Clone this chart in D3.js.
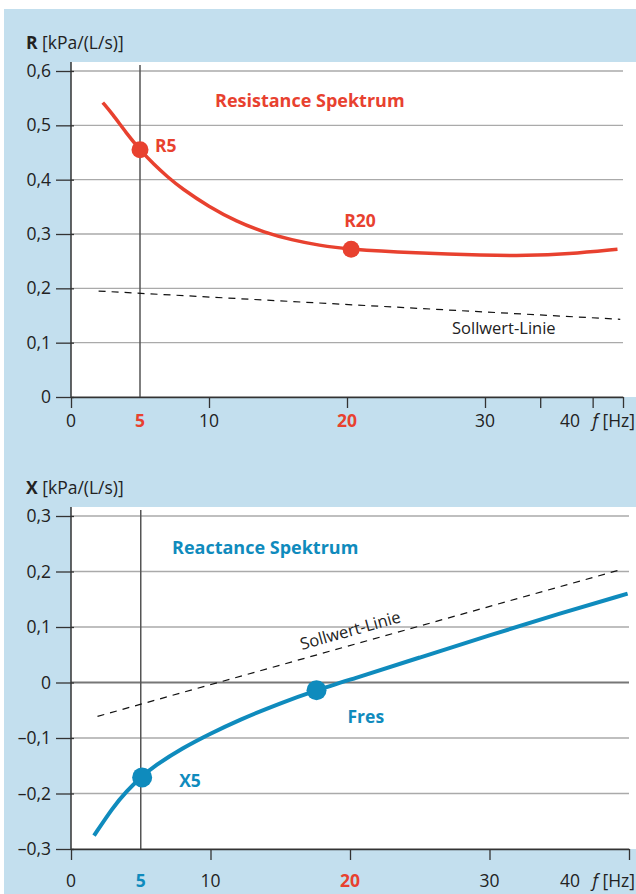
<!DOCTYPE html>
<html>
<head>
<meta charset="utf-8">
<script src="https://cdn.jsdelivr.net/npm/d3@7"></script>
<style>
  body { margin: 0; background: #fff; }
  text { font-family: "Open Sans", "Noto Sans", sans-serif; }
</style>
</head>
<body>
<div id="chart"></div>
<script>
// resistance spectrum (top)
var freqR = [2.3, 3, 4, 5, 6, 7, 8, 10, 12, 14, 16, 18, 20, 25, 30, 33, 36, 39.6];
var resistance = [0.542, 0.521, 0.486, 0.455, 0.428, 0.405, 0.384, 0.350, 0.323, 0.303, 0.289, 0.279, 0.272, 0.265, 0.261, 0.260, 0.263, 0.272];
var sollFreqR = [2.0, 39.8];
var sollR = [0.195, 0.143];
var markersR = [{ f: 5, v: 0.455, name: "R5" }, { f: 20.3, v: 0.272, name: "R20" }];

// reactance spectrum (bottom)
var freqX = [1.65, 3, 4, 5, 6, 8, 10, 12, 15, 17.6, 20, 25, 30, 35, 39.9];
var reactance = [-0.276, -0.225, -0.195, -0.171, -0.150, -0.118, -0.092, -0.068, -0.037, -0.014, 0.005, 0.045, 0.085, 0.124, 0.160];
var sollFreqX = [1.9, 39.5];
var sollX = [-0.061, 0.204];
var markersX = [{ f: 5.1, v: -0.171, name: "X5" }, { f: 17.6, v: -0.014, name: "Fres" }];

var yTicksR = [0, 0.1, 0.2, 0.3, 0.4, 0.5, 0.6];
var yTicksX = [-0.3, -0.2, -0.1, 0, 0.1, 0.2, 0.3];
var xTicksR = [0, 10, 20, 30, 34, 37.8, 40];
var xTicksX = [0, 10, 20, 30, 40];
var xLabels = [0, 5, 10, 20, 30];

var RED = "#e8412f", BLUE = "#0f8bbd", BG = "#c3dfee";
var FS = 17.5;

var width = 636, height = 894;
var svg = d3.select("#chart").append("svg")
  .attr("width", width)
  .attr("height", height);

svg.append("rect")
  .attr("x", 4).attr("y", 9)
  .attr("width", width - 4).attr("height", height - 9)
  .attr("fill", BG);

var fmt = v => v === 0 ? "0" : (v < 0 ? "\u2013" : "") + Math.abs(v).toFixed(1).replace(".", ",");

function panel(o) {
  var x = d3.scaleLinear().domain([0, 40]).range([71, o.xEnd]);
  var y = d3.scaleLinear().domain(o.yDomain).range(o.yRange);
  var g = svg.append("g");

  g.append("rect")
    .attr("x", 71).attr("y", o.top)
    .attr("width", width - 71).attr("height", o.yRange[0] - o.top)
    .attr("fill", "#fff");

  // grid
  g.selectAll(".grid").data(o.yTicks).join("line")
    .attr("x1", 71).attr("x2", o.xEnd)
    .attr("y1", d => y(d)).attr("y2", d => y(d))
    .attr("stroke", d => d === 0 && o.yDomain[0] < 0 ? "#777" : "#aaa")
    .attr("stroke-width", d => d === 0 && o.yDomain[0] < 0 ? 2 : 1.3);

  // vertical line at 5 Hz
  g.append("line")
    .attr("x1", x(5)).attr("x2", x(5))
    .attr("y1", o.top + 3).attr("y2", o.yRange[0])
    .attr("stroke", "#555").attr("stroke-width", 1.5);

  var yAxis = g.append("g")
    .attr("transform", "translate(71,0)")
    .call(d3.axisLeft(y).tickValues(o.yTicks).tickFormat(fmt).tickSizeInner(15).tickSizeOuter(0).tickPadding(5));
  yAxis.select(".domain").attr("d", "M0," + o.top + "V" + o.yRange[0]).attr("stroke", "#333").attr("stroke-width", 1.5);
  yAxis.selectAll(".tick line").attr("x2", -15).attr("x1", 3).attr("stroke", "#333").attr("stroke-width", 1.3);
  yAxis.selectAll("text").attr("font-size", FS).attr("fill", "#222");

  var xAxis = g.append("g")
    .attr("transform", "translate(0," + o.yRange[0] + ")")
    .call(d3.axisBottom(x).tickValues(o.xTicks).tickFormat(() => "").tickSizeInner(11).tickSizeOuter(0));
  xAxis.select(".domain").attr("stroke", "#333").attr("stroke-width", 1.5);
  xAxis.selectAll(".tick line").attr("stroke", "#333").attr("stroke-width", 1.3);

  g.selectAll(".xl").data(xLabels).join("text")
    .attr("x", d => x(d))
    .attr("y", o.yRange[0] + o.labelDy)
    .attr("text-anchor", "middle")
    .attr("font-size", FS)
    .attr("font-weight", d => d === 5 || d === 20 ? "bold" : "normal")
    .attr("fill", d => d === 5 ? o.color5 : d === 20 ? RED : "#222")
    .text(d => d);

  g.append("text")
    .attr("x", 570).attr("y", o.yRange[0] + o.labelDy)
    .attr("text-anchor", "middle")
    .attr("font-size", FS).attr("fill", "#222")
    .text("40");
  var hz = g.append("text")
    .attr("x", 635).attr("y", o.yRange[0] + o.labelDy)
    .attr("text-anchor", "end")
    .attr("font-size", FS).attr("fill", "#222");
  hz.append("tspan").attr("font-style", "italic").text("f");
  hz.append("tspan").text(" [Hz]");

  var title = g.append("text")
    .attr("x", 26).attr("y", o.titleY)
    .attr("font-size", FS).attr("fill", "#222");
  title.append("tspan").attr("font-weight", "bold").text(o.letter);
  title.append("tspan").text(" [kPa/(L/s)]");

  // Sollwert line
  var soll = d3.line().x(d => x(d[0])).y(d => y(d[1]));
  g.append("path")
    .attr("d", soll(d3.zip(o.sollF, o.sollV)))
    .attr("fill", "none").attr("stroke", "#111")
    .attr("stroke-width", 1.2).attr("stroke-dasharray", "7,6");

  var line = d3.line().x(d => x(d[0])).y(d => y(d[1])).curve(d3.curveBasis);
  g.append("path")
    .attr("d", line(d3.zip(o.freq, o.vals)))
    .attr("fill", "none").attr("stroke", o.color).attr("stroke-width", o.lw);

  g.selectAll(".dot").data(o.markers).join("circle")
    .attr("cx", d => x(d.f)).attr("cy", d => y(d.v))
    .attr("r", o.r).attr("fill", o.color);

  g.selectAll(".mk").data(o.markers).join("text")
    .attr("x", (d, i) => x(d.f) + o.mdx[i])
    .attr("y", (d, i) => y(d.v) + o.mdy[i])
    .attr("font-size", FS).attr("font-weight", "bold").attr("fill", o.color)
    .text(d => d.name);

  g.append("text")
    .attr("x", o.nameX).attr("y", o.nameY)
    .attr("font-size", FS + 0.5).attr("font-weight", "bold").attr("fill", o.color)
    .text(o.name);

  return { g: g, x: x, y: y };
}

panel({
  top: 62, xEnd: 623, yDomain: [0, 0.6], yRange: [397, 71],
  yTicks: yTicksR, xTicks: xTicksR, labelDy: 30, titleY: 49, letter: "R",
  freq: freqR, vals: resistance, sollF: sollFreqR, sollV: sollR,
  color: RED, color5: RED, lw: 3.5, r: 8.5, markers: markersR,
  mdx: [15, -7], mdy: [2, -22],
  name: "Resistance Spektrum", nameX: 215, nameY: 107
});
panel({
  top: 507, xEnd: 629, yDomain: [-0.3, 0.3], yRange: [849, 516],
  yTicks: yTicksX, xTicks: xTicksX, labelDy: 38, titleY: 494, letter: "X",
  freq: freqX, vals: reactance, sollF: sollFreqX, sollV: sollX,
  color: BLUE, color5: BLUE, lw: 4, r: 10, markers: markersX,
  mdx: [37, 31], mdy: [10, 33],
  name: "Reactance Spektrum", nameX: 172, nameY: 554
});

// label along the rising reference line
svg.append("text")
  .attr("transform", "translate(302,650) rotate(-15.7)")
  .attr("font-size", 16.5).attr("fill", "#222")
  .text("Sollwert-Linie");
svg.append("text")
  .attr("x", 452).attr("y", 334)
  .attr("font-size", 16.5).attr("fill", "#222")
  .text("Sollwert-Linie");
</script>
</body>
</html>
